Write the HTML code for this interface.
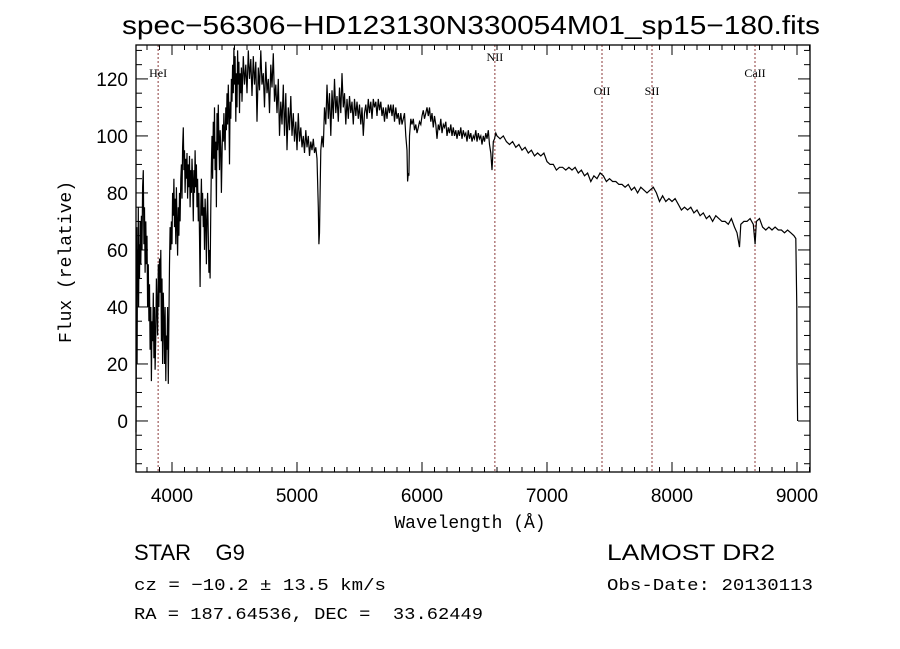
<!DOCTYPE html>
<html><head><meta charset="utf-8"><style>
body{margin:0;background:#fff;width:900px;height:649px;overflow:hidden}
svg{display:block}
text{font-family:"Liberation Sans",sans-serif;fill:#000}
.m{font-family:"Liberation Mono",monospace}
.s{font-family:"Liberation Serif",serif}
</style></head><body>
<svg id="chart" width="900" height="649" viewBox="0 0 900 649">
<text x="471" y="34" font-size="26" text-anchor="middle" textLength="698" lengthAdjust="spacingAndGlyphs">spec−56306−HD123130N330054M01_sp15−180.fits</text>
<g id="axes"></g>
<g id="lines"></g>
<path id="spec" fill="none" stroke="#000" stroke-width="1.2"/>
<rect x="136" y="45" width="674" height="427" fill="none" stroke="#000" stroke-width="1.3"/>
<text class="m" x="470" y="528" font-size="18" text-anchor="middle">Wavelength (Å)</text>
<text class="m" x="0" y="0" font-size="18" text-anchor="middle" transform="translate(71,262) rotate(-90)">Flux (relative)</text>
<text x="134" y="560" font-size="22" xml:space="preserve">STAR    G9</text>
<text x="607" y="560" font-size="22" textLength="168" lengthAdjust="spacingAndGlyphs">LAMOST DR2</text>
<text class="m" x="134" y="590" font-size="17" textLength="252" lengthAdjust="spacingAndGlyphs">cz = −10.2 ± 13.5 km/s</text>
<text class="m" x="607" y="590" font-size="17" textLength="206" lengthAdjust="spacingAndGlyphs">Obs-Date: 20130113</text>
<text class="m" x="134" y="619" font-size="17" xml:space="preserve" textLength="349" lengthAdjust="spacingAndGlyphs">RA = 187.64536, DEC =  33.62449</text>
</svg>
<script>
const xTicks=[4000,5000,6000,7000,8000,9000];
const yTicks=[0,20,40,60,80,100,120];
const lineNames=["HeI","NII","OII","SII","CaII"];
const lineWaves=[3889,6583,7440,7840,8664];
const wave=[3712,3715,3718,3721,3724,3727,3730,3733,3736,3740,3745,3750,3755,3760,3765,3770,3775,3780,3785,3790,3795,3800,3805,3810,3815,3820,3825,3830,3835,3840,3845,3850,3855,3860,3865,3870,3875,3880,3885,3890,3895,3900,3905,3910,3915,3920,3925,3930,3935,3940,3945,3950,3955,3960,3965,3970,3975,3980,3985,3990,3995,4000,4005,4010,4015,4020,4025,4030,4035,4040,4045,4050,4055,4060,4065,4070,4075,4080,4085,4090,4095,4100,4105,4110,4115,4120,4125,4130,4135,4140,4145,4150,4155,4160,4165,4170,4175,4180,4185,4190,4195,4200,4205,4210,4215,4220,4225,4230,4235,4240,4245,4250,4255,4260,4265,4270,4275,4280,4285,4290,4295,4300,4305,4310,4315,4320,4325,4330,4335,4340,4345,4350,4355,4360,4365,4370,4375,4380,4385,4390,4395,4400,4405,4410,4415,4420,4425,4430,4435,4440,4445,4450,4455,4460,4465,4470,4475,4480,4485,4490,4495,4500,4505,4510,4515,4520,4525,4530,4535,4540,4545,4550,4555,4560,4570,4580,4590,4600,4610,4620,4630,4640,4650,4660,4670,4680,4690,4700,4710,4720,4730,4740,4750,4760,4770,4780,4790,4800,4810,4820,4830,4840,4850,4860,4870,4880,4890,4900,4910,4920,4930,4940,4950,4960,4970,4980,4990,5000,5010,5020,5030,5040,5050,5060,5070,5080,5090,5100,5110,5120,5130,5140,5150,5160,5170,5175,5180,5185,5190,5200,5210,5220,5230,5240,5250,5260,5270,5280,5290,5300,5310,5320,5330,5340,5350,5360,5370,5380,5390,5400,5410,5420,5430,5440,5450,5460,5470,5480,5490,5500,5510,5520,5530,5540,5550,5560,5570,5580,5590,5600,5610,5620,5630,5640,5650,5660,5670,5680,5690,5700,5710,5720,5730,5740,5750,5760,5770,5780,5790,5800,5810,5820,5830,5840,5850,5860,5870,5880,5885,5890,5895,5900,5910,5920,5930,5940,5950,5960,5970,5980,5990,6000,6010,6020,6030,6040,6050,6060,6070,6080,6090,6100,6110,6120,6130,6140,6150,6160,6170,6180,6190,6200,6210,6220,6230,6240,6250,6260,6270,6280,6290,6300,6310,6320,6330,6340,6350,6360,6370,6380,6390,6400,6410,6420,6430,6440,6450,6460,6470,6480,6490,6500,6510,6520,6530,6540,6550,6560,6565,6570,6580,6590,6600,6625,6650,6675,6700,6725,6750,6775,6800,6825,6850,6875,6900,6925,6950,6975,7000,7025,7050,7075,7100,7125,7150,7175,7200,7225,7250,7275,7300,7325,7350,7375,7400,7425,7450,7475,7500,7525,7550,7575,7600,7625,7650,7675,7700,7725,7750,7775,7800,7825,7850,7875,7900,7925,7950,7975,8000,8025,8050,8075,8100,8125,8150,8175,8200,8225,8250,8275,8300,8325,8350,8375,8400,8425,8450,8475,8500,8520,8540,8550,8575,8600,8625,8650,8665,8675,8700,8725,8750,8775,8800,8825,8850,8875,8900,8925,8950,8975,8990,8998,9000,9005];
const flux=[-4,30,68,20,60,45,75,40,62,50,70,55,72,60,82,88,62,75,52,70,55,65,40,55,35,48,25,40,14,35,28,45,22,40,18,30,50,40,30,55,40,57,45,60,28,50,20,45,35,20,40,14,30,25,40,13,35,55,68,60,70,62,80,72,85,68,78,62,82,70,58,75,65,80,70,85,90,78,96,103,88,95,80,92,85,94,78,90,82,93,75,88,80,92,85,70,88,80,95,82,90,75,85,70,80,65,47,75,85,72,80,68,75,60,78,70,55,72,80,65,52,60,50,75,90,100,85,105,92,110,88,98,75,108,95,111,98,88,102,96,80,92,104,98,108,100,95,110,102,115,104,118,108,90,112,106,120,112,125,115,131,118,128,105,122,110,130,118,126,108,122,115,124,112,128,118,125,115,130,120,127,114,128,118,126,105,124,116,130,118,122,110,126,115,120,108,125,117,129,112,118,108,120,100,112,104,118,100,115,95,110,102,114,100,108,98,105,95,108,98,103,96,100,94,102,96,100,93,98,95,99,94,96,92,75,62,66,80,95,100,96,110,104,118,106,115,100,116,106,120,108,114,105,117,108,122,110,115,104,113,106,114,108,112,104,113,107,112,106,111,104,110,100,108,111,106,113,108,112,106,113,110,112,107,113,109,112,107,110,105,110,106,111,108,111,107,111,105,110,106,108,104,108,104,106,108,100,95,84,87,86,100,106,104,106,102,104,101,103,105,104,107,109,106,108,110,107,110,105,108,103,107,104,99,104,102,106,101,104,103,105,100,103,101,104,100,103,100,102,99,102,100,103,99,102,100,101,98,102,99,101,98,100,99,102,98,101,99,100,97,100,98,101,99,102,97,94,88,92,98,99,101,100,99,100,98,97,98,96,97,95,96,94,95,93,94,93,94,91,90,90,88,89,89,88,89,88,89,87,88,86,87,84,86,85,87,86,84,85,84,84,83,83,82,83,81,82,80,82,81,80,81,82,80,77,79,77,78,77,78,76,74,75,74,75,73,74,72,73,71,72,70,72,71,70,70,69,71,68,66,61,69,70,70,71,69,62,70,71,68,67,68,67,68,67,67,66,67,66,65,64,40,20,0];
const X0=136,X1=810,Y0=45,Y1=472,WMIN=3712,WMAX=9104,FMIN=-17.9,FMAX=131.9;
function sx(w){return X0+(w-WMIN)/(WMAX-WMIN)*(X1-X0);}
function sy(f){return Y1-(f-FMIN)/(FMAX-FMIN)*(Y1-Y0);}
const NS="http://www.w3.org/2000/svg";
const axes=document.getElementById('axes');
function ln(g,x1,y1,x2,y2,st,w,dash){const l=document.createElementNS(NS,'line');l.setAttribute('x1',x1);l.setAttribute('y1',y1);l.setAttribute('x2',x2);l.setAttribute('y2',y2);l.setAttribute('stroke',st);l.setAttribute('stroke-width',w);if(dash)l.setAttribute('stroke-dasharray',dash);g.appendChild(l);return l;}
for(let w=3800;w<=9100;w+=100){const x=sx(w);const major=w%1000===0;const L=major?10:5;
const t1=ln(axes,x,Y1,x,Y1-L,'#000',1);


const t2=ln(axes,x,Y0,x,Y0+L,'#000',1);

}
for(let f=-15;f<=130;f+=5){const y=sy(f);const major=f%20===0;const L=major?12:6;
const t1=ln(axes,X0,y,X0+L,y,'#000',1);


const t2=ln(axes,X1,y,X1-L,y,'#000',1);

}
xTicks.forEach(v=>{const t=document.createElementNS(NS,'text');t.setAttribute('x',sx(v));t.setAttribute('y',Y1+30);t.setAttribute('font-size','19');t.setAttribute('text-anchor','middle');t.textContent=v;


axes.appendChild(t);});
yTicks.forEach(v=>{const t=document.createElementNS(NS,'text');t.setAttribute('x',X0-8);t.setAttribute('y',sy(v)+7);t.setAttribute('font-size','19');t.setAttribute('text-anchor','end');t.textContent=v;


axes.appendChild(t);});
const lg=document.getElementById('lines');
const labY=[77,61,95,95,77];
lineWaves.forEach((w,i)=>{const x=sx(w);const l=ln(lg,x,Y0,x,Y1,'#8b3a3a',1,'2,2');


const t=document.createElementNS(NS,'text');t.setAttribute('x',x);t.setAttribute('y',labY[i]);t.setAttribute('font-size','12');t.setAttribute('class','s');t.setAttribute('text-anchor','middle');t.textContent=lineNames[i];


lg.appendChild(t);});
let d='';wave.forEach((w,i)=>{const f=Math.max(FMIN,Math.min(FMAX,flux[i]));d+=(i?'L':'M')+sx(w).toFixed(1)+','+sy(f).toFixed(1);});
document.getElementById('spec').setAttribute('d',d);
</script>
</body></html>
